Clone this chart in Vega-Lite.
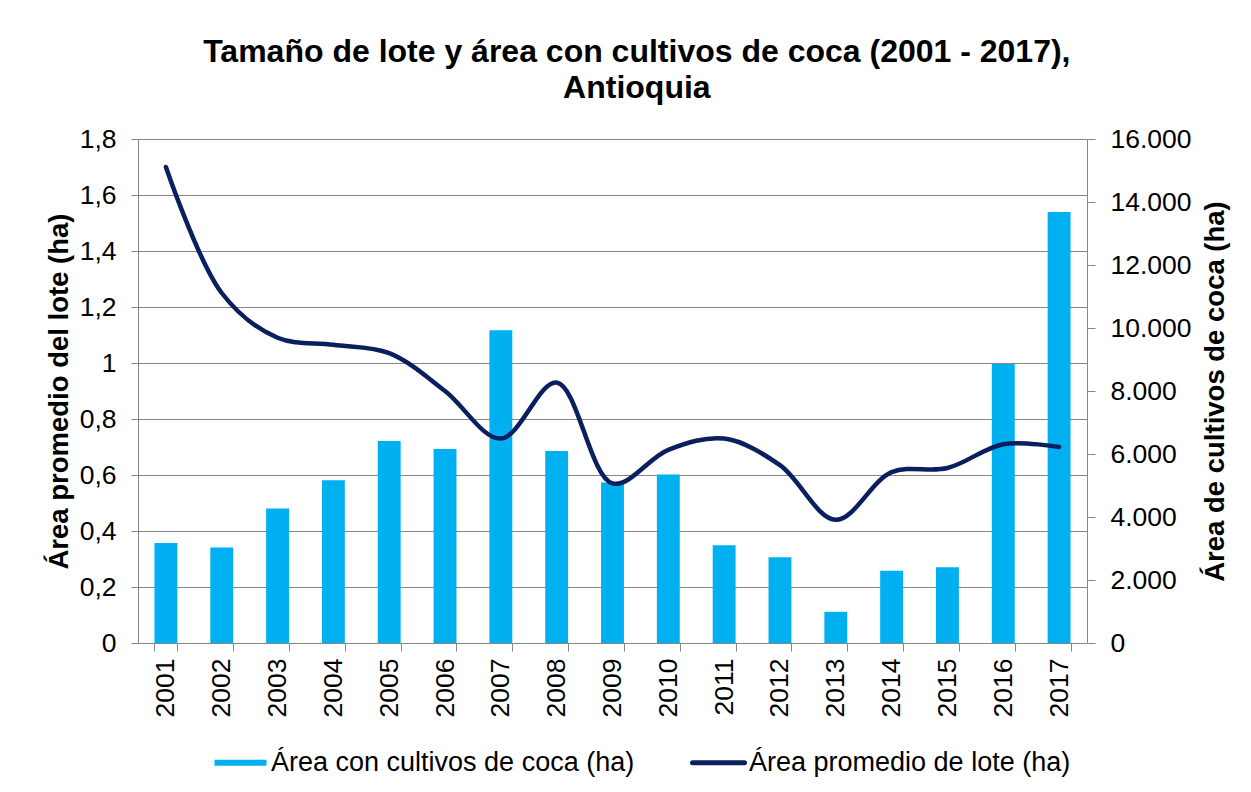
{
  "$schema": "https://vega.github.io/schema/vega-lite/v6.json",
  "width": 949,
  "height": 504,
  "autosize": {"type": "none"},
  "padding": {"left": 138, "top": 139, "right": 164, "bottom": 149},
  "background": "white",
  "config": {
    "font": "Liberation Sans",
    "view": {"stroke": null},
    "axis": {
      "domainColor": "#868686",
      "tickColor": "#868686",
      "gridColor": "#868686",
      "domainWidth": 1,
      "tickWidth": 1,
      "gridWidth": 1,
      "labelColor": "black",
      "titleColor": "black",
      "labelFont": "Liberation Sans",
      "titleFont": "Liberation Sans",
      "labelFontSize": 26.5,
      "titleFontSize": 27.5,
      "titleFontWeight": "bold"
    }
  },
  "title": {
    "text": ["Tamaño de lote y área con cultivos de coca (2001 - 2017),", "Antioquia"],
    "font": "Liberation Sans",
    "fontSize": 32,
    "fontWeight": "bold",
    "color": "black",
    "anchor": "middle",
    "frame": "bounds",
    "lineHeight": 36,
    "offset": 21
  },
  "data": {
    "values": [
      {"anio": "2001", "area": 3171, "lote": 1.70},
      {"anio": "2002", "area": 3030, "lote": 1.25},
      {"anio": "2003", "area": 4273, "lote": 1.09},
      {"anio": "2004", "area": 5168, "lote": 1.065},
      {"anio": "2005", "area": 6414, "lote": 1.035},
      {"anio": "2006", "area": 6157, "lote": 0.90},
      {"anio": "2007", "area": 9926, "lote": 0.73},
      {"anio": "2008", "area": 6096, "lote": 0.93},
      {"anio": "2009", "area": 5096, "lote": 0.57},
      {"anio": "2010", "area": 5350, "lote": 0.69},
      {"anio": "2011", "area": 3104, "lote": 0.73},
      {"anio": "2012", "area": 2725, "lote": 0.635},
      {"anio": "2013", "area": 991, "lote": 0.44},
      {"anio": "2014", "area": 2293, "lote": 0.61},
      {"anio": "2015", "area": 2402, "lote": 0.625},
      {"anio": "2016", "area": 8855, "lote": 0.71},
      {"anio": "2017", "area": 13681, "lote": 0.70}
    ]
  },
  "encoding": {
    "x": {
      "field": "anio",
      "type": "ordinal",
      "scale": {"paddingInner": 0.59, "paddingOuter": 0.295},
      "axis": {
        "title": null,
        "labelAngle": 270,
        "tickBand": "extent",
        "tickSize": 8,
        "labelPadding": 7,
        "grid": false
      }
    }
  },
  "layer": [
    {
      "mark": {"type": "bar"},
      "encoding": {
        "y": {
          "field": "area",
          "type": "quantitative",
          "scale": {"domain": [0, 16000], "nice": false},
          "axis": {
            "orient": "right",
            "values": [0, 2000, 4000, 6000, 8000, 10000, 12000, 14000, 16000],
            "labelExpr": "replace(format(datum.value, ',d'), ',', '.')",
            "title": "Área de cultivos de coca (ha)",
            "grid": false,
            "tickSize": 8,
            "labelPadding": 15,
            "titlePadding": 10,
            "titleAngle": 270,
            "titleBaseline": "top"
          }
        },
        "color": {
          "datum": "Área con cultivos de coca (ha)",
          "type": "nominal",
          "scale": {
            "domain": ["Área con cultivos de coca (ha)", "Área promedio de lote (ha)"],
            "range": ["#00B0F0", "#0A1F5E"]
          },
          "legend": {
            "orient": "none",
            "legendX": 89,
            "legendY": 610,
            "padding": 0,
            "direction": "horizontal",
            "title": null,
            "labelFont": "Liberation Sans",
            "labelFontSize": 27,
            "labelColor": "black",
            "labelLimit": 600,
            "symbolSize": 2704,
            "labelOffset": 17,
            "columnPadding": 47,
            "encode": {
              "symbols": {
                "update": {
                  "shape": {"signal": "datum.index === 1 ? 'M-1,0H1' : 'M-1,-0.12H1V0.12H-1Z'"},
                  "fill": {"signal": "datum.index === 1 ? 'transparent' : '#00B0F0'"},
                  "stroke": {"signal": "datum.index === 1 ? '#0A1F5E' : 'transparent'"},
                  "strokeWidth": {"signal": "datum.index === 1 ? 5 : 0"},
                  "strokeCap": {"value": "round"},
                  "size": {"value": 2704},
                  "opacity": {"value": 1}
                }
              }
            }
          }
        }
      }
    },
    {
      "mark": {"type": "line", "interpolate": "catmull-rom", "strokeWidth": 4.5, "strokeCap": "round"},
      "encoding": {
        "y": {
          "field": "lote",
          "type": "quantitative",
          "scale": {"domain": [0, 1.8], "nice": false},
          "axis": {
            "orient": "left",
            "values": [0, 0.2, 0.4, 0.6, 0.8, 1, 1.2, 1.4, 1.6, 1.8],
            "labelExpr": "replace(format(datum.value, '.1~f'), '.', ',')",
            "title": "Área promedio del lote (ha)",
            "grid": true,
            "tickSize": 7,
            "labelPadding": 15,
            "titlePadding": 6
          }
        },
        "color": {
          "datum": "Área promedio de lote (ha)",
          "type": "nominal"
        }
      }
    }
  ],
  "resolve": {"scale": {"y": "independent"}}
}
